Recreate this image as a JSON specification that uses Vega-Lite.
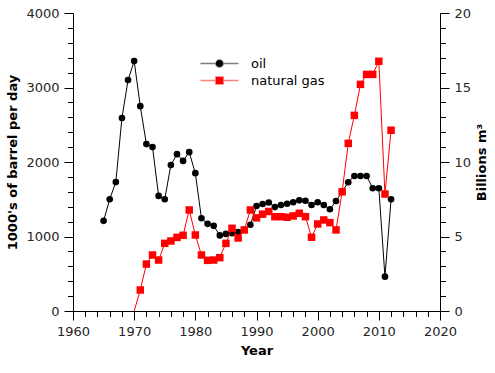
{
  "$schema": "https://vega.github.io/schema/vega-lite/v6.json",
  "width": 367,
  "height": 298,
  "autosize": {"type": "none"},
  "padding": {"left": 73, "top": 13, "right": 55, "bottom": 62},
  "background": "white",
  "config": {
    "view": {"stroke": null},
    "font": "DejaVu Sans",
    "axis": {
      "labelFont": "DejaVu Sans",
      "labelFontSize": 13,
      "labelColor": "#262626",
      "titleFont": "DejaVu Sans",
      "titleFontSize": 13,
      "titleFontWeight": "bold",
      "titleColor": "black",
      "domainColor": "black",
      "domainWidth": 1,
      "tickColor": "black",
      "tickWidth": 1,
      "grid": false,
      "labelFlush": false,
      "labelOverlap": false
    },
    "legend": {"labelFont": "DejaVu Sans", "labelFontSize": 13, "labelColor": "black"}
  },
  "datasets": {
    "oil": [
      {"year": 1965, "series": "oil", "value": 1210},
      {"year": 1966, "series": "oil", "value": 1500},
      {"year": 1967, "series": "oil", "value": 1730},
      {"year": 1968, "series": "oil", "value": 2590},
      {"year": 1969, "series": "oil", "value": 3100},
      {"year": 1970, "series": "oil", "value": 3355},
      {"year": 1971, "series": "oil", "value": 2750},
      {"year": 1972, "series": "oil", "value": 2240},
      {"year": 1973, "series": "oil", "value": 2200},
      {"year": 1974, "series": "oil", "value": 1545},
      {"year": 1975, "series": "oil", "value": 1500},
      {"year": 1976, "series": "oil", "value": 1960},
      {"year": 1977, "series": "oil", "value": 2105},
      {"year": 1978, "series": "oil", "value": 2015},
      {"year": 1979, "series": "oil", "value": 2132},
      {"year": 1980, "series": "oil", "value": 1850},
      {"year": 1981, "series": "oil", "value": 1245},
      {"year": 1982, "series": "oil", "value": 1170},
      {"year": 1983, "series": "oil", "value": 1143},
      {"year": 1984, "series": "oil", "value": 1015},
      {"year": 1985, "series": "oil", "value": 1035},
      {"year": 1986, "series": "oil", "value": 1045},
      {"year": 1987, "series": "oil", "value": 1060},
      {"year": 1988, "series": "oil", "value": 1090},
      {"year": 1989, "series": "oil", "value": 1157},
      {"year": 1990, "series": "oil", "value": 1409},
      {"year": 1991, "series": "oil", "value": 1436},
      {"year": 1992, "series": "oil", "value": 1456},
      {"year": 1993, "series": "oil", "value": 1395},
      {"year": 1994, "series": "oil", "value": 1423},
      {"year": 1995, "series": "oil", "value": 1440},
      {"year": 1996, "series": "oil", "value": 1460},
      {"year": 1997, "series": "oil", "value": 1485},
      {"year": 1998, "series": "oil", "value": 1480},
      {"year": 1999, "series": "oil", "value": 1423},
      {"year": 2000, "series": "oil", "value": 1460},
      {"year": 2001, "series": "oil", "value": 1423},
      {"year": 2002, "series": "oil", "value": 1365},
      {"year": 2003, "series": "oil", "value": 1477},
      {"year": 2004, "series": "oil", "value": 1602},
      {"year": 2005, "series": "oil", "value": 1728},
      {"year": 2006, "series": "oil", "value": 1812},
      {"year": 2007, "series": "oil", "value": 1812},
      {"year": 2008, "series": "oil", "value": 1812},
      {"year": 2009, "series": "oil", "value": 1647},
      {"year": 2010, "series": "oil", "value": 1647},
      {"year": 2011, "series": "oil", "value": 461},
      {"year": 2012, "series": "oil", "value": 1499}
    ],
    "gas": [
      {"year": 1970, "series": "natural gas", "value": 0},
      {"year": 1971, "series": "natural gas", "value": 1.41},
      {"year": 1972, "series": "natural gas", "value": 3.15},
      {"year": 1973, "series": "natural gas", "value": 3.76},
      {"year": 1974, "series": "natural gas", "value": 3.42},
      {"year": 1975, "series": "natural gas", "value": 4.54},
      {"year": 1976, "series": "natural gas", "value": 4.70},
      {"year": 1977, "series": "natural gas", "value": 4.94},
      {"year": 1978, "series": "natural gas", "value": 5.08},
      {"year": 1979, "series": "natural gas", "value": 6.78},
      {"year": 1980, "series": "natural gas", "value": 5.10},
      {"year": 1981, "series": "natural gas", "value": 3.76},
      {"year": 1982, "series": "natural gas", "value": 3.40},
      {"year": 1983, "series": "natural gas", "value": 3.42},
      {"year": 1984, "series": "natural gas", "value": 3.58},
      {"year": 1985, "series": "natural gas", "value": 4.54},
      {"year": 1986, "series": "natural gas", "value": 5.55},
      {"year": 1987, "series": "natural gas", "value": 4.90},
      {"year": 1988, "series": "natural gas", "value": 5.44},
      {"year": 1989, "series": "natural gas", "value": 6.78},
      {"year": 1990, "series": "natural gas", "value": 6.25},
      {"year": 1991, "series": "natural gas", "value": 6.50},
      {"year": 1992, "series": "natural gas", "value": 6.68},
      {"year": 1993, "series": "natural gas", "value": 6.33},
      {"year": 1994, "series": "natural gas", "value": 6.33},
      {"year": 1995, "series": "natural gas", "value": 6.29},
      {"year": 1996, "series": "natural gas", "value": 6.38},
      {"year": 1997, "series": "natural gas", "value": 6.56},
      {"year": 1998, "series": "natural gas", "value": 6.33},
      {"year": 1999, "series": "natural gas", "value": 4.95},
      {"year": 2000, "series": "natural gas", "value": 5.84},
      {"year": 2001, "series": "natural gas", "value": 6.11},
      {"year": 2002, "series": "natural gas", "value": 5.93},
      {"year": 2003, "series": "natural gas", "value": 5.44},
      {"year": 2004, "series": "natural gas", "value": 8.0},
      {"year": 2005, "series": "natural gas", "value": 11.25},
      {"year": 2006, "series": "natural gas", "value": 13.13},
      {"year": 2007, "series": "natural gas", "value": 15.21},
      {"year": 2008, "series": "natural gas", "value": 15.88},
      {"year": 2009, "series": "natural gas", "value": 15.88},
      {"year": 2010, "series": "natural gas", "value": 16.76},
      {"year": 2011, "series": "natural gas", "value": 7.85},
      {"year": 2012, "series": "natural gas", "value": 12.13}
    ]
  },
  "encoding": {
    "x": {
      "field": "year",
      "type": "quantitative",
      "title": "Year",
      "scale": {"domain": [1960, 2020], "nice": false, "zero": false},
      "axis": {
        "values": [1960,1962,1964,1966,1968,1970,1972,1974,1976,1978,1980,1982,1984,1986,1988,1990,1992,1994,1996,1998,2000,2002,2004,2006,2008,2010,2012,2014,2016,2018,2020],
        "labelExpr": "datum.value % 10 === 0 ? datum.value : ''",
        "tickSize": {"condition": {"test": "datum.value % 10 === 0", "value": 9}, "value": 5.5},
        "labelPadding": 5,
        "titlePadding": 6,
        "format": "d"
      }
    }
  },
  "layer": [
    {
      "data": {"name": "oil"},
      "encoding": {
        "y": {
          "field": "value",
          "type": "quantitative",
          "title": "1000's of barrel per day",
          "scale": {"domain": [0, 4000], "nice": false},
          "axis": {
            "orient": "left",
            "values": [0,200,400,600,800,1000,1200,1400,1600,1800,2000,2200,2400,2600,2800,3000,3200,3400,3600,3800,4000],
            "labelExpr": "datum.value % 1000 === 0 ? datum.value : ''",
            "tickSize": {"condition": {"test": "datum.value % 1000 === 0", "value": 9}, "value": 5.5},
            "labelPadding": 5,
            "titlePadding": 6
          }
        },
        "color": {
          "field": "series",
          "type": "nominal",
          "scale": {"domain": ["oil", "natural gas"], "range": ["black", "red"]},
          "legend": {
            "title": null,
            "orient": "none",
            "legendX": 140,
            "legendY": 44,
            "symbolSize": 64,
            "labelOffset": 25,
            "rowPadding": 2,
            "encode": {
              "symbols": {
                "update": {
                  "shape": {"signal": "datum.value === 'oil' ? 'M-4.75,0L4.75,0M-0.9,0A0.9,0.9,0,1,1,0.9,0A0.9,0.9,0,1,1,-0.9,0Z' : 'M-4.75,0L4.75,0M-0.9,-0.9L0.9,-0.9L0.9,0.9L-0.9,0.9Z'"},
                  "fill": {"scale": "color", "field": "value"},
                  "stroke": {"scale": "color", "field": "value"},
                  "strokeOpacity": {"value": 0.5},
                  "fillOpacity": {"value": 1},
                  "strokeWidth": {"value": 1.5}
                }
              }
            }
          }
        }
      },
      "layer": [
        {"mark": {"type": "line", "strokeWidth": 1}},
        {"mark": {"type": "point", "shape": "circle", "filled": true, "size": 44, "opacity": 1}}
      ]
    },
    {
      "data": {"name": "gas"},
      "encoding": {
        "y": {
          "field": "value",
          "type": "quantitative",
          "title": "Billions m³",
          "scale": {"domain": [0, 20], "nice": false},
          "axis": {
            "orient": "right",
            "values": [0,1,2,3,4,5,6,7,8,9,10,11,12,13,14,15,16,17,18,19,20],
            "labelExpr": "datum.value % 5 === 0 ? datum.value : ''",
            "tickSize": {"condition": {"test": "datum.value % 5 === 0", "value": 9}, "value": 5.5},
            "labelPadding": 5,
            "titleAngle": 270,
            "titlePadding": 18
          }
        },
        "color": {"field": "series", "type": "nominal"}
      },
      "layer": [
        {"mark": {"type": "line", "strokeWidth": 1, "clip": true}},
        {
          "transform": [{"filter": "datum.value > 0"}],
          "mark": {"type": "point", "shape": "square", "filled": true, "size": 56, "opacity": 1}
        }
      ]
    }
  ],
  "resolve": {"scale": {"y": "independent"}}
}
